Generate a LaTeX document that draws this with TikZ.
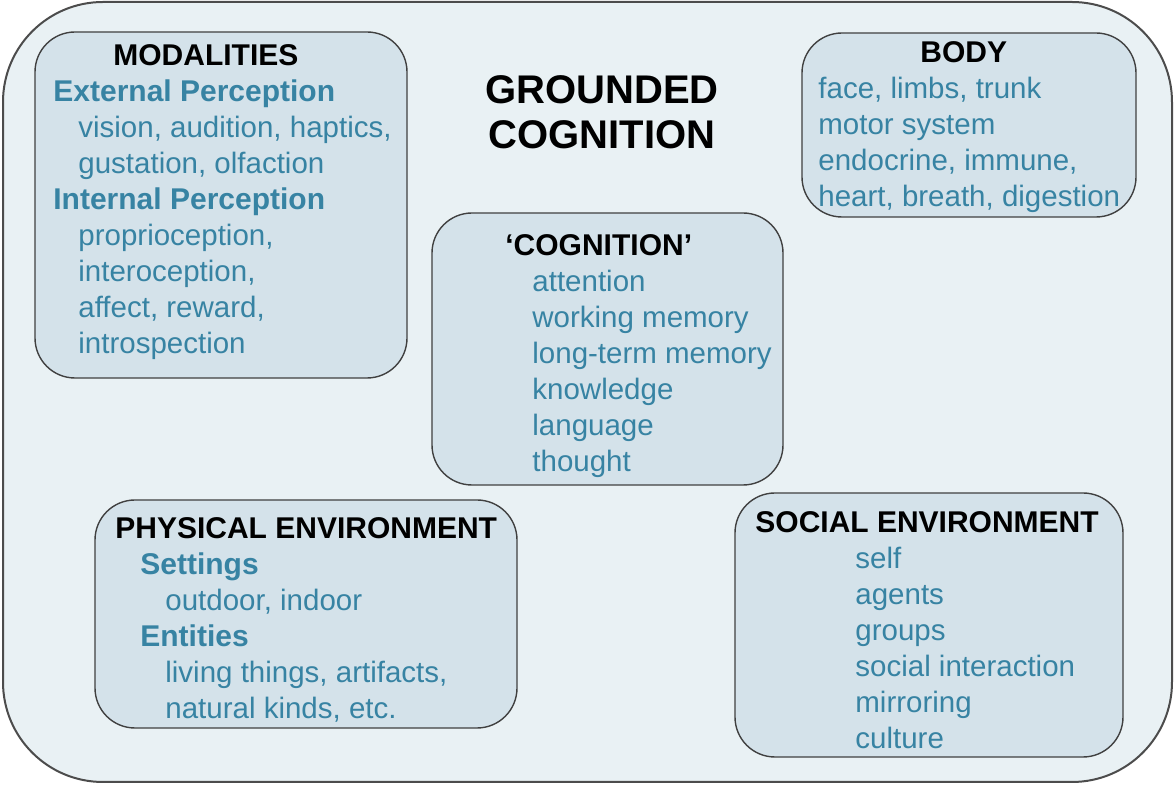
\documentclass[tikz,border=0pt]{standalone}
\usepackage{fontspec}
\setmainfont{Liberation Sans}
\definecolor{framefill}{HTML}{E9F1F4}
\definecolor{boxfill}{HTML}{D4E2EA}
\definecolor{itemblue}{HTML}{3783A3}
\newcommand{\boxhead}[1]{\textbf{\textcolor{black}{\fontsize{15}{18}\selectfont #1}}}
\newcommand{\subhead}[1]{\textbf{\fontsize{15}{18}\selectfont #1}}

\begin{document}
\begin{tikzpicture}[x=0.5pt, y=-0.5pt,
            frame/.style={draw=black!70, fill=framefill, line width=1pt, rounded corners=50pt},
            box/.style={draw=black!75, fill=boxfill, line width=0.7pt, rounded corners=20pt},
            listtext/.style={anchor=north west, align=left, inner sep=0pt, text=itemblue,
                font=\fontsize{14.75}{18}\selectfont},
            title/.style={align=center, inner sep=0pt, font=\fontsize{20}{22.5}\selectfont\bfseries}]
    \useasboundingbox (0,0) rectangle (1175,785);
    \draw[frame] (3,2) rectangle (1172,782);
    \draw[box] (35,32) rectangle (407,378);
    \draw[box] (802,33) rectangle (1136,217);
    \draw[box] (432,213) rectangle (783,485);
    \draw[box] (95,500) rectangle (517,728);
    \draw[box] (735,493) rectangle (1123,757);
    \node[title] (grounded) at (602,112) {GROUNDED\\COGNITION};
    \node[listtext] (modalities) at (53,44) {\hspace*{30pt}\boxhead{MODALITIES}\\
        \subhead{External Perception}\\
        \hspace*{12.5pt}vision, audition, haptics,\\
        \hspace*{12.5pt}gustation, olfaction\\
        \subhead{Internal Perception}\\
        \hspace*{12.5pt}proprioception,\\
        \hspace*{12.5pt}interoception,\\
        \hspace*{12.5pt}affect, reward,\\
        \hspace*{12.5pt}introspection};
    \node[listtext] (body) at (818,41) {\hspace*{51pt}\boxhead{BODY}\\
        face, limbs, trunk\\
        motor system\\
        endocrine, immune,\\
        heart, breath, digestion};
    \node[listtext] (cognition) at (505,234) {\boxhead{‘COGNITION’}\\
        \hspace*{13.5pt}attention\\
        \hspace*{13.5pt}working memory\\
        \hspace*{13.5pt}long-term memory\\
        \hspace*{13.5pt}knowledge\\
        \hspace*{13.5pt}language\\
        \hspace*{13.5pt}thought};
    \node[listtext] (physical) at (115,517) {\boxhead{PHYSICAL ENVIRONMENT}\\
        \hspace*{12.5pt}\subhead{Settings}\\
        \hspace*{25pt}outdoor, indoor\\
        \hspace*{12.5pt}\subhead{Entities}\\
        \hspace*{25pt}living things, artifacts,\\
        \hspace*{25pt}natural kinds, etc.};
    \node[listtext] (social) at (755,511) {\boxhead{SOCIAL ENVIRONMENT}\\
        \hspace*{50pt}self\\
        \hspace*{50pt}agents\\
        \hspace*{50pt}groups\\
        \hspace*{50pt}social interaction\\
        \hspace*{50pt}mirroring\\
        \hspace*{50pt}culture};
\end{tikzpicture}
\end{document}
